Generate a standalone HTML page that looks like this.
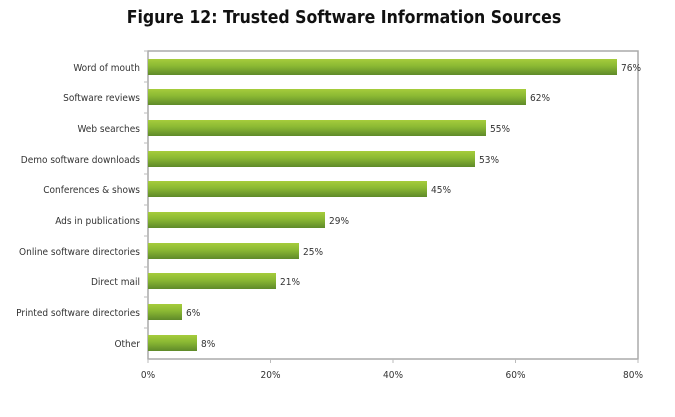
<!DOCTYPE html>
<html><head><style>
body{margin:0;background:#fff;}
</style></head><body>
<svg width="675" height="412" xmlns="http://www.w3.org/2000/svg" font-family="'DejaVu Sans Condensed','DejaVu Sans',sans-serif">
<defs>
<linearGradient id="g" x1="0" y1="0" x2="0" y2="1">
<stop offset="0" stop-color="#a6cc3c"/>
<stop offset="0.45" stop-color="#8ab833"/>
<stop offset="1" stop-color="#5f8a2a"/>
</linearGradient>
</defs>
<text x="344" y="23" text-anchor="middle" font-size="17.5" font-weight="bold" fill="#111">Figure 12: Trusted Software Information Sources</text>
<rect x="148" y="51" width="490" height="308" fill="none" stroke="#aaa" stroke-width="1.5"/>
<g stroke="#bbb" stroke-width="1">
<line x1="144" y1="51" x2="148" y2="51"/><line x1="144" y1="82" x2="148" y2="82"/><line x1="144" y1="113" x2="148" y2="113"/><line x1="144" y1="143" x2="148" y2="143"/><line x1="144" y1="174" x2="148" y2="174"/><line x1="144" y1="205" x2="148" y2="205"/><line x1="144" y1="236" x2="148" y2="236"/><line x1="144" y1="267" x2="148" y2="267"/><line x1="144" y1="297" x2="148" y2="297"/><line x1="144" y1="328" x2="148" y2="328"/>
<line x1="148" y1="359" x2="148" y2="363"/><line x1="270.5" y1="359" x2="270.5" y2="363"/><line x1="393" y1="359" x2="393" y2="363"/><line x1="515.5" y1="359" x2="515.5" y2="363"/><line x1="638" y1="359" x2="638" y2="363"/>
</g>
<g fill="url(#g)">
<rect x="148" y="59" width="469" height="16"/>
<rect x="148" y="89" width="378" height="16"/>
<rect x="148" y="120" width="338" height="16"/>
<rect x="148" y="151" width="327" height="16"/>
<rect x="148" y="181" width="279" height="16"/>
<rect x="148" y="212" width="177" height="16"/>
<rect x="148" y="243" width="151" height="16"/>
<rect x="148" y="273" width="128" height="16"/>
<rect x="148" y="304" width="34" height="16"/>
<rect x="148" y="335" width="49" height="16"/>
</g>
<g font-size="10" fill="#333" text-anchor="end">
<text x="140" y="71">Word of mouth</text>
<text x="140" y="101">Software reviews</text>
<text x="140" y="132">Web searches</text>
<text x="140" y="163">Demo software downloads</text>
<text x="140" y="193">Conferences &amp; shows</text>
<text x="140" y="224">Ads in publications</text>
<text x="140" y="255">Online software directories</text>
<text x="140" y="285">Direct mail</text>
<text x="140" y="316">Printed software directories</text>
<text x="140" y="347">Other</text>
</g>
<g font-size="10" fill="#333">
<text x="621" y="71">76%</text>
<text x="530" y="101">62%</text>
<text x="490" y="132">55%</text>
<text x="479" y="163">53%</text>
<text x="431" y="193">45%</text>
<text x="329" y="224">29%</text>
<text x="303" y="255">25%</text>
<text x="280" y="285">21%</text>
<text x="186" y="316">6%</text>
<text x="201" y="347">8%</text>
</g>
<g font-size="10" fill="#333" text-anchor="middle">
<text x="148" y="378">0%</text>
<text x="270.5" y="378">20%</text>
<text x="393" y="378">40%</text>
<text x="515.5" y="378">60%</text>
<text x="633" y="378">80%</text>
</g>
</svg>
</body></html>
